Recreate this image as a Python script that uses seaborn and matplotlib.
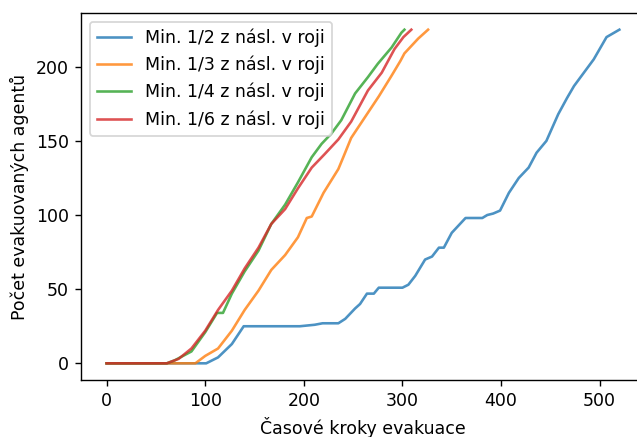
import matplotlib
matplotlib.use("Agg")
import matplotlib.pyplot as plt
import seaborn as sns

labels = ["Min. 1/2 z násl. v roji", "Min. 1/3 z násl. v roji",
          "Min. 1/4 z násl. v roji", "Min. 1/6 z násl. v roji"]
colors = ["#1f77b4", "#ff7f0e", "#2ca02c", "#d62728"]

# 1/2
x_half = [0, 101, 113, 127, 139, 196, 211, 219, 235, 242, 252, 257, 264, 271, 276,
          300, 306, 313, 323, 330, 337, 342, 350, 357, 364, 381, 386, 392, 399,
          408, 418, 428, 436, 446, 458, 467, 474, 484, 494, 507, 520]
y_half = [0, 0, 4, 13, 25, 25, 26, 27, 27, 30, 37, 40, 47, 47, 51,
          51, 53, 59, 70, 72, 78, 78, 88, 93, 98, 98, 100, 101, 103,
          115, 125, 132, 142, 150, 168, 179, 187, 196, 205, 220, 225]

# 1/3
x_third = [0, 90, 100, 113, 127, 140, 154, 167, 181, 194, 203, 208, 220, 235,
           240, 248, 257, 262, 276, 289, 298, 302, 316, 326]
y_third = [0, 0, 5, 10, 22, 36, 49, 63, 73, 85, 98, 99, 115, 131,
           139, 152, 161, 166, 180, 194, 204, 209, 219, 225]

# 1/4
x_quarter = [0, 61, 69, 86, 100, 112, 118, 127, 140, 154, 167, 181, 194, 208,
             218, 228, 238, 252, 265, 275, 289, 299, 302]
y_quarter = [0, 0, 2, 8, 21, 34, 34, 47, 62, 76, 94, 107, 122, 139,
             148, 155, 164, 182, 193, 202, 213, 223, 225]

# 1/6
x_sixth = [0, 61, 73, 86, 100, 113, 127, 140, 154, 167, 181, 194, 208, 221,
           235, 248, 265, 279, 292, 301, 309]
y_sixth = [0, 0, 3, 10, 22, 36, 49, 64, 78, 94, 104, 118, 132, 141,
           151, 163, 184, 196, 212, 220, 225]

series = [(x_half, y_half), (x_third, y_third), (x_quarter, y_quarter), (x_sixth, y_sixth)]

dpi = 125
fig = plt.figure(figsize=(637 / dpi, 437 / dpi), dpi=dpi)
# axes runs a bit past the right edge, the reference is cropped there
ax = fig.add_axes([81 / 637, 57 / 437, 564 / 637, 367 / 437])

for (xs, ys), lab, col in zip(series, labels, colors):
    sns.lineplot(x=xs, y=ys, label=lab, color=col, alpha=0.8, ax=ax)

ax.set_xlabel("Časové kroky evakuace")
ax.set_ylabel("Počet evakuovaných agentů")
ax.legend(loc="upper left")

fig.savefig("out.png", dpi=dpi)
